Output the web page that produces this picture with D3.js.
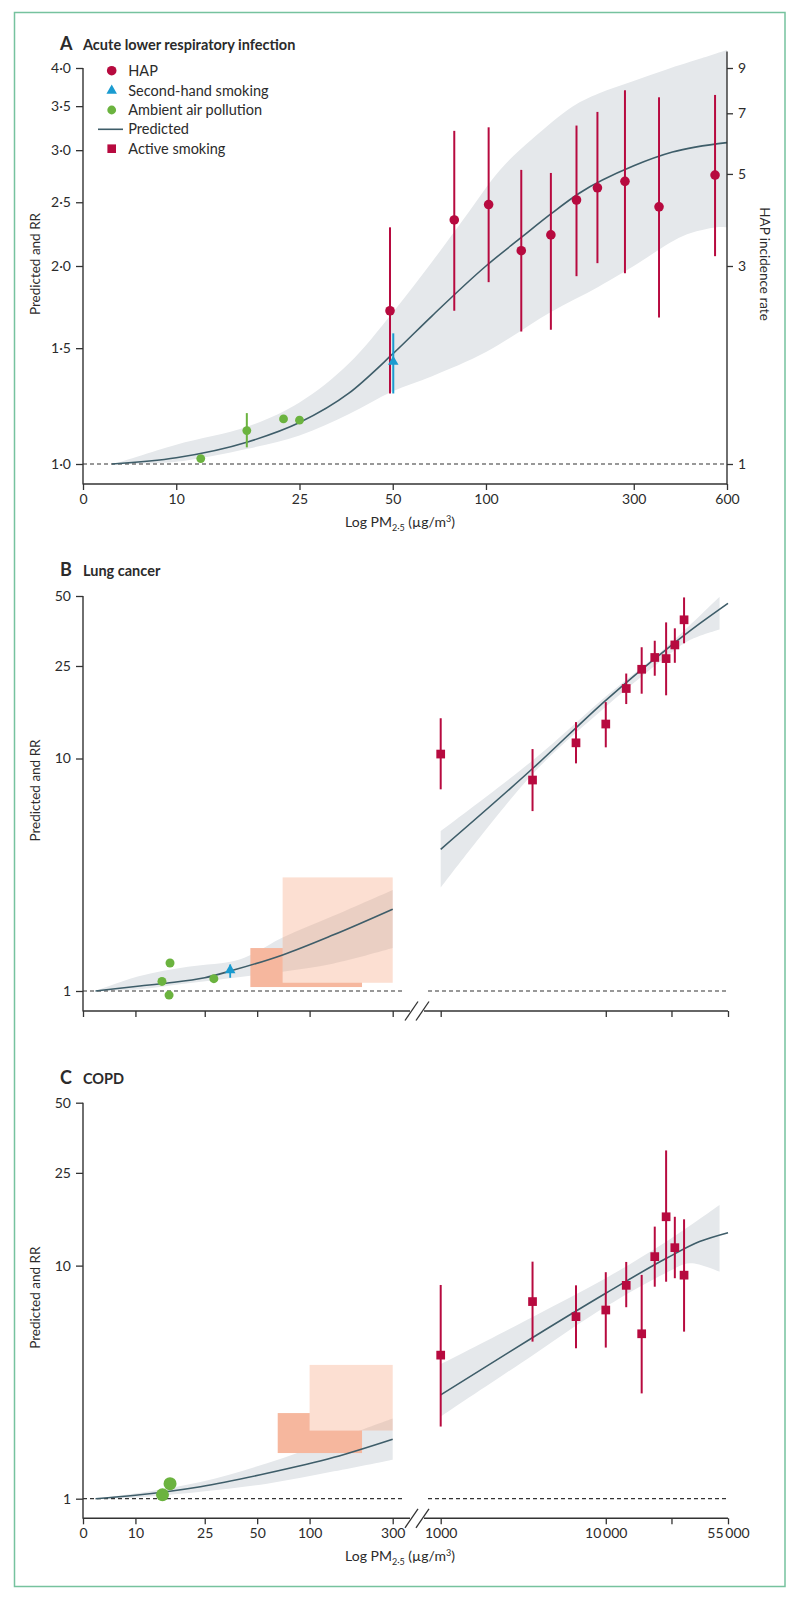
<!DOCTYPE html>
<html><head><meta charset="utf-8">
<script src="https://cdn.jsdelivr.net/npm/d3@7"></script>
<style>
body{margin:0;background:#fff;}
svg text{font-family:Lato,"Open Sans",sans-serif;fill:#2b2b2b;}
</style></head><body>
<svg id="chart" width="800" height="1600"></svg>
<script>
// ================= DATA =================
// ---- Panel A: Acute lower respiratory infection ----
const aXTicks = [5, 10, 25, 50, 100, 300, 600];
const aXTickLabels = ["0", "10", "25", "50", "100", "300", "600"];
const aYTicks = [1, 1.5, 2, 2.5, 3, 3.5, 4];
const aYTickLabels = ["1·0", "1·5", "2·0", "2·5", "3·0", "3·5", "4·0"];
const aRightTicks = [1, 3, 5, 7, 9];
const aRightTickLabels = ["1", "3", "5", "7", "9"];

const aPredX = [6.2, 10, 17, 25, 36, 50, 67, 100, 130, 162, 200, 300, 400, 600];
const aPredY = [1.0, 1.022, 1.08, 1.156, 1.28, 1.47, 1.68, 2.0, 2.21, 2.40, 2.58, 2.84, 2.98, 3.08];
const aBandUpX = [6.3, 10, 17, 25, 36, 50, 67, 86, 111, 141, 191, 231, 298, 383, 490, 600];
const aBandUpY = [1.0, 1.07, 1.14, 1.24, 1.42, 1.70, 2.03, 2.38, 2.80, 3.12, 3.50, 3.66, 3.82, 3.98, 4.13, 4.26];
const aBandLoX = [6.3, 10, 17, 25, 36, 50, 67, 100, 161, 231, 300, 431, 556, 600];
const aBandLoY = [1.0, 1.008, 1.055, 1.105, 1.19, 1.29, 1.36, 1.48, 1.70, 1.86, 2.0, 2.22, 2.29, 2.29];

const hapX  = [49, 79, 102, 130, 162, 196, 229, 281, 362, 549];
const hapRR = [1.71, 2.35, 2.48, 2.11, 2.23, 2.52, 2.63, 2.69, 2.46, 2.75];
const hapLo = [1.28, 1.71, 1.89, 1.59, 1.60, 1.93, 2.02, 1.95, 1.67, 2.07];
const hapHi = [2.29, 3.21, 3.25, 2.80, 2.77, 3.27, 3.43, 3.70, 3.61, 3.64];

const aShsX = [50.2], aShsRR = [1.43], aShsLo = [1.28], aShsHi = [1.58];
const aAmbX  = [12.0, 16.9, 22.2, 25.0];
const aAmbRR = [1.019, 1.124, 1.171, 1.166];
const aAmbLo = [null, 1.06, null, null];
const aAmbHi = [null, 1.195, null, null];

const legendLabels = ["HAP", "Second-hand smoking", "Ambient air pollution", "Predicted", "Active smoking"];

// ---- Panels B & C shared ticks ----
const lowXTicks = [5, 10, 25, 50, 100, 300];
const lowXTickLabels = ["0", "10", "25", "50", "100", "300"];
const highXTicks = [1000, 10000, 25000, 55000];
const highXTickLabels = ["1000", "10\u2009000", "", "55\u2009000"];
const bcYTicks = [1, 10, 25, 50];
const bcYTickLabels = ["1", "10", "25", "50"];
const smokeX = [1000, 3600, 6600, 10000, 13300, 16500, 19800, 23200, 26200, 29800];

// ---- Panel B: Lung cancer ----
const bPredLX = [5.9, 10.6, 15, 25, 36.6, 70, 136, 300];
const bPredLY = [1.0, 1.05, 1.08, 1.14, 1.23, 1.43, 1.74, 2.25];
const bBandLUpX = [5.9, 10.6, 20, 40, 70, 136, 300];
const bBandLUpY = [1.0, 1.16, 1.27, 1.37, 1.70, 2.10, 2.72];
const bBandLLoX = [5.9, 10.6, 20, 40, 70, 136, 300];
const bBandLLoY = [1.0, 1.017, 1.08, 1.15, 1.21, 1.31, 1.53];
const bPredRX = [1000, 3632, 10000, 23300, 37000, 55000];
const bPredRY = [4.07, 9.1, 17.8, 29.5, 38.0, 46.5];
const bBandRUpX = [1000, 3632, 10000, 23300, 48900];
const bBandRUpY = [4.88, 9.85, 18.5, 30.2, 49.6];
const bBandRLoX = [1000, 3632, 10000, 23300, 32300, 48900];
const bBandRLoY = [2.78, 8.63, 16.7, 27.4, 32.3, 35.9];
const bSmkRR = [10.45, 8.08, 11.68, 14.07, 20.0, 24.2, 27.2, 26.9, 30.8, 39.5];
const bSmkLo = [7.37, 5.94, 9.53, 11.17, 17.15, 19.0, 22.7, 18.7, 25.8, 31.3];
const bSmkHi = [14.9, 10.98, 14.34, 17.48, 23.2, 30.1, 32.1, 38.5, 36.3, 49.3];
const bAmbX  = [15.8, 14.2, 15.6, 28.2];
const bAmbRR = [1.32, 1.10, 0.96, 1.13];
const bShsX = [35.0], bShsRR = [1.23], bShsLo = [1.14], bShsHi = [1.30];
const bRectX0 = [45.7, 70], bRectX1 = [200, 300], bRectY0 = [1.04, 1.085], bRectY1 = [1.53, 3.08];

// ---- Panel C: COPD ----
const cPredLX = [5.9, 10, 23.6, 57, 138, 300];
const cPredLY = [1.0, 1.035, 1.126, 1.285, 1.505, 1.80];
const cBandLUpX = [5.9, 9.7, 23.6, 57, 138, 300];
const cBandLUpY = [1.0, 1.05, 1.18, 1.42, 1.79, 2.21];
const cBandLLoX = [5.9, 9.7, 23.6, 57, 138, 300];
const cBandLLoY = [1.0, 1.01, 1.07, 1.16, 1.31, 1.47];
const cPredRX = [1000, 3632, 10000, 23300, 37000, 55000];
const cPredRY = [2.79, 4.93, 7.61, 10.75, 12.68, 13.85];
const cBandRUpX = [1000, 3632, 10000, 23300, 48900];
const cBandRUpY = [3.78, 6.04, 8.83, 12.68, 18.2];
const cBandRLoX = [1000, 3632, 10000, 23300, 32300, 48900];
const cBandRLoY = [2.25, 4.14, 6.67, 9.33, 10.24, 9.42];
const cSmkRR = [4.13, 7.01, 6.04, 6.45, 8.23, 5.10, 10.93, 16.2, 11.94, 9.10];
const cSmkLo = [2.04, 4.72, 4.42, 4.45, 6.63, 2.83, 8.12, 8.53, 8.83, 5.21];
const cSmkHi = [8.26, 10.4, 8.23, 9.37, 10.37, 9.12, 14.7, 31.2, 16.2, 15.8];
const cAmbX  = [15.8, 14.3];
const cAmbRR = [1.16, 1.04];
const cRectX0 = [65.6, 100], cRectX1 = [200, 300], cRectY0 = [1.57, 1.96], cRectY1 = [2.33, 3.75];

// ================= STYLE =================
const RED = "#b70a3f", BLUE = "#1a9bd0", GREEN = "#6bb33f", LINE = "#3e5d69";
const BAND = "#e5e8eb", DARK_RECT = "#f6b79e", LIGHT_RECT = "#fcdfd2", AXIS = "#333";

const svg = d3.select("#chart");
svg.append("rect").attr("x", 14.5).attr("y", 12.5).attr("width", 770.5).attr("height", 1574)
  .attr("fill", "none").attr("stroke", "#76c29e").attr("stroke-width", 1.5);

function bandD(xsU, ysU, xsL, ysL, xS, yS) {
  const up = xsU.map((x, i) => [xS(x), yS(ysU[i])]);
  const lo = xsL.map((x, i) => [xS(x), yS(ysL[i])]).reverse();
  const ln = d3.line().curve(d3.curveCatmullRom.alpha(0.5));
  return ln(up) + "L" + ln(lo).slice(1) + "Z";
}
function lineD(xs, ys, xS, yS) {
  return d3.line().curve(d3.curveMonotoneX)(xs.map((x, i) => [xS(x), yS(ys[i])]));
}
function styleAxis(g, fs) {
  g.select(".domain").remove();
  g.selectAll(".tick line").attr("stroke", AXIS).attr("stroke-width", 1.3);
  g.selectAll(".tick text").style("font-family", "Lato, 'Open Sans', sans-serif")
    .style("font-size", fs + "px").attr("fill", "#2b2b2b");
}
function vline(g, x, y0, y1) {
  g.append("line").attr("x1", x).attr("x2", x).attr("y1", y0).attr("y2", y1)
    .attr("stroke", AXIS).attr("stroke-width", 1.4);
}
function hline(g, x0, x1, y, dashed) {
  const l = g.append("line").attr("x1", x0).attr("x2", x1).attr("y1", y).attr("y2", y)
    .attr("stroke", AXIS).attr("stroke-width", dashed ? 1.2 : 1.4);
  if (dashed) l.attr("stroke-dasharray", "4,3");
}
function errBars(g, xs, lo, hi, xS, yS, color, w) {
  xs.forEach((x, i) => {
    if (lo[i] == null) return;
    g.append("line").attr("x1", xS(x)).attr("x2", xS(x)).attr("y1", yS(lo[i])).attr("y2", yS(hi[i]))
      .attr("stroke", color).attr("stroke-width", w);
  });
}
function dots(g, xs, ys, xS, yS, color, r) {
  xs.forEach((x, i) => g.append("circle").attr("cx", xS(x)).attr("cy", yS(ys[i])).attr("r", r).attr("fill", color));
}
function symbols(g, type, size, xs, ys, xS, yS, color) {
  xs.forEach((x, i) => g.append("path").attr("d", d3.symbol(type, size)())
    .attr("transform", `translate(${xS(x)},${yS(ys[i])})`).attr("fill", color));
}
function xLabel(g, cx, y) {
  const t = g.append("text").attr("x", cx).attr("y", y).attr("text-anchor", "middle").style("font-size", "14px");
  t.append("tspan").text("Log PM");
  t.append("tspan").text("2·5").style("font-size", "9px").attr("dy", 4);
  t.append("tspan").text(" (µg/m").attr("dy", -4);
  t.append("tspan").text("3").style("font-size", "9px").attr("dy", -5);
  t.append("tspan").text(")").attr("dy", 5);
}
function title(g, letter, txt, y) {
  g.append("text").attr("x", 60).attr("y", y).text(letter).style("font-size", "18px").style("font-weight", 700).attr("fill", "#111");
  g.append("text").attr("x", 83).attr("y", y).text(txt).style("font-size", "14.5px").style("font-weight", 700).attr("fill", "#111");
}
function yLabel(g, cy) {
  g.append("text").attr("transform", `translate(40,${cy}) rotate(-90)`).attr("text-anchor", "middle")
    .style("font-size", "13.5px").text("Predicted and RR");
}

// ================= PANEL A =================
{
  const g = svg.append("g");
  const xS = d3.scaleLog().domain([5, 600]).range([83, 727]);
  const yS = d3.scaleLog().domain([1, 4]).range([464, 68]);
  const yR = d3.scaleLog().domain([1, 9]).range([464, 68]);

  g.append("path").attr("d", bandD(aBandUpX, aBandUpY, aBandLoX, aBandLoY, xS, yS)).attr("fill", BAND);
  hline(g, 83, 727, yS(1), true);
  g.append("path").attr("d", lineD(aPredX, aPredY, xS, yS)).attr("fill", "none").attr("stroke", LINE).attr("stroke-width", 1.6);

  const gl = g.append("g").attr("transform", "translate(83,0)")
    .call(d3.axisLeft(yS).tickValues(aYTicks).tickFormat((d, i) => aYTickLabels[i]).tickSize(7).tickPadding(5));
  styleAxis(gl, 14);
  vline(g, 83, 68, 484.5);
  const gr = g.append("g").attr("transform", "translate(727,0)")
    .call(d3.axisRight(yR).tickValues(aRightTicks).tickFormat((d, i) => aRightTickLabels[i]).tickSize(6).tickPadding(5));
  styleAxis(gr, 14);
  vline(g, 727, 51.5, 484.5);
  const gb = g.append("g").attr("transform", "translate(0,484)")
    .call(d3.axisBottom(xS).tickValues(aXTicks).tickFormat((d, i) => aXTickLabels[i]).tickSize(6).tickPadding(4));
  styleAxis(gb, 14);
  hline(g, 83, 727, 484);

  errBars(g, hapX, hapLo, hapHi, xS, yS, RED, 2);
  errBars(g, aShsX, aShsLo, aShsHi, xS, yS, BLUE, 2);
  errBars(g, aAmbX, aAmbLo, aAmbHi, xS, yS, GREEN, 2);
  dots(g, hapX, hapRR, xS, yS, RED, 4.8);
  dots(g, aAmbX, aAmbRR, xS, yS, GREEN, 4.4);
  symbols(g, d3.symbolTriangle, 48, aShsX, aShsRR, xS, yS, BLUE);

  // legend
  const lx = 111.7, tx = 128.3, ly = [70.7, 90.7, 110, 129.3, 148.7];
  g.append("circle").attr("cx", lx).attr("cy", ly[0]).attr("r", 4.8).attr("fill", RED);
  g.append("path").attr("d", d3.symbol(d3.symbolTriangle, 48)()).attr("transform", `translate(${lx},${ly[1]})`).attr("fill", BLUE);
  g.append("circle").attr("cx", lx).attr("cy", ly[2]).attr("r", 4.4).attr("fill", GREEN);
  g.append("line").attr("x1", 98).attr("x2", 123).attr("y1", ly[3]).attr("y2", ly[3]).attr("stroke", LINE).attr("stroke-width", 1.6);
  g.append("rect").attr("x", lx - 4.3).attr("y", ly[4] - 4.3).attr("width", 8.6).attr("height", 8.6).attr("fill", RED);
  legendLabels.forEach((t, i) => g.append("text").attr("x", tx).attr("y", ly[i] + 5).style("font-size", "14.5px").text(t));

  title(g, "A", "Acute lower respiratory infection", 50);
  yLabel(g, 264);
  g.append("text").attr("transform", "translate(760,264) rotate(90)").attr("text-anchor", "middle")
    .style("font-size", "13.5px").text("HAP incidence rate");
  xLabel(g, 400, 527);
}

// ================= PANELS B & C =================
function lowerPanel(cfg) {
  const g = svg.append("g");
  const xL = d3.scaleLog().domain([5, 300]).range([83, 392.7]);
  const xR = d3.scaleLog().domain([1000, 55000]).range([440.7, 728]);
  const yS = d3.scaleLog().domain([1, 50]).range([cfg.yBase, cfg.yTop]);
  const ay = cfg.axisY;

  // left band, rectangles
  const bandL = bandD(cfg.bandLUpX, cfg.bandLUpY, cfg.bandLLoX, cfg.bandLLoY, xL, yS);
  g.append("path").attr("d", bandL).attr("fill", BAND);
  const rx = (i) => xL(cfg.rectX0[i]), rw = (i) => xL(cfg.rectX1[i]) - xL(cfg.rectX0[i]);
  const ry = (i) => yS(cfg.rectY1[i]), rh = (i) => yS(cfg.rectY0[i]) - yS(cfg.rectY1[i]);
  g.append("rect").attr("x", rx(0)).attr("y", ry(0)).attr("width", rw(0)).attr("height", rh(0)).attr("fill", DARK_RECT);
  g.append("rect").attr("x", rx(1)).attr("y", ry(1)).attr("width", rw(1)).attr("height", rh(1)).attr("fill", LIGHT_RECT);
  const clipId = "clip" + cfg.letter;
  svg.append("clipPath").attr("id", clipId).append("rect")
    .attr("x", rx(1)).attr("y", ry(1)).attr("width", rw(1)).attr("height", rh(1));
  g.append("path").attr("d", bandL).attr("fill", "#000").attr("fill-opacity", 0.07).attr("clip-path", `url(#${clipId})`);

  // right band
  g.append("path").attr("d", bandD(cfg.bandRUpX, cfg.bandRUpY, cfg.bandRLoX, cfg.bandRLoY, xR, yS)).attr("fill", BAND);

  // baseline
  hline(g, 83, 403, yS(1), true);
  hline(g, 428, 728, yS(1), true);

  // predicted
  g.append("path").attr("d", lineD(cfg.predLX, cfg.predLY, xL, yS)).attr("fill", "none").attr("stroke", LINE).attr("stroke-width", 1.6);
  g.append("path").attr("d", lineD(cfg.predRX, cfg.predRY, xR, yS)).attr("fill", "none").attr("stroke", LINE).attr("stroke-width", 1.6);

  // axes
  const gl = g.append("g").attr("transform", "translate(83,0)")
    .call(d3.axisLeft(yS).tickValues(bcYTicks).tickFormat((d, i) => bcYTickLabels[i]).tickSize(7).tickPadding(5));
  styleAxis(gl, 14);
  vline(g, 83, cfg.yTop, ay + 0.5);
  const gxl = g.append("g").attr("transform", `translate(0,${ay})`)
    .call(d3.axisBottom(xL).tickValues(lowXTicks).tickFormat((d, i) => cfg.showLabels ? lowXTickLabels[i] : "").tickSize(6).tickPadding(4));
  styleAxis(gxl, 14);
  const gxr = g.append("g").attr("transform", `translate(0,${ay})`)
    .call(d3.axisBottom(xR).tickValues(highXTicks).tickFormat((d, i) => cfg.showLabels ? highXTickLabels[i] : "").tickSize(6).tickPadding(4));
  styleAxis(gxr, 14);
  hline(g, 83, 410, ay);
  hline(g, 424, 728, ay);
  [[405, 418], [416, 429]].forEach(([x0, x1]) =>
    g.append("line").attr("x1", x0).attr("y1", ay + 9.5).attr("x2", x1).attr("y2", ay - 9.5)
      .attr("stroke", AXIS).attr("stroke-width", 1.3));

  // points
  if (cfg.shsX) {
    errBars(g, cfg.shsX, cfg.shsLo, cfg.shsHi, xL, yS, BLUE, 1.8);
    symbols(g, d3.symbolTriangle, 48, cfg.shsX, cfg.shsRR, xL, yS, BLUE);
  }
  dots(g, cfg.ambX, cfg.ambRR, xL, yS, GREEN, cfg.ambR);
  errBars(g, smokeX, cfg.smkLo, cfg.smkHi, xR, yS, RED, 2);
  symbols(g, d3.symbolSquare, 76, smokeX, cfg.smkRR, xR, yS, RED);

  title(g, cfg.letter, cfg.title, cfg.titleY);
  yLabel(g, (cfg.yTop + cfg.yBase) / 2 - 3);
  if (cfg.showLabels) xLabel(g, 400, cfg.xLabelY);
}

lowerPanel({
  letter: "B", title: "Lung cancer", titleY: 576, yTop: 596, yBase: 991, axisY: 1011, showLabels: false,
  predLX: bPredLX, predLY: bPredLY, bandLUpX: bBandLUpX, bandLUpY: bBandLUpY, bandLLoX: bBandLLoX, bandLLoY: bBandLLoY,
  predRX: bPredRX, predRY: bPredRY, bandRUpX: bBandRUpX, bandRUpY: bBandRUpY, bandRLoX: bBandRLoX, bandRLoY: bBandRLoY,
  smkLo: bSmkLo, smkHi: bSmkHi, smkRR: bSmkRR, ambX: bAmbX, ambRR: bAmbRR, ambR: 4.5,
  shsX: bShsX, shsRR: bShsRR, shsLo: bShsLo, shsHi: bShsHi,
  rectX0: bRectX0, rectX1: bRectX1, rectY0: bRectY0, rectY1: bRectY1
});
lowerPanel({
  letter: "C", title: "COPD", titleY: 1084, yTop: 1102.7, yBase: 1498.7, axisY: 1518.3, showLabels: true, xLabelY: 1561,
  predLX: cPredLX, predLY: cPredLY, bandLUpX: cBandLUpX, bandLUpY: cBandLUpY, bandLLoX: cBandLLoX, bandLLoY: cBandLLoY,
  predRX: cPredRX, predRY: cPredRY, bandRUpX: cBandRUpX, bandRUpY: cBandRUpY, bandRLoX: cBandRLoX, bandRLoY: cBandRLoY,
  smkLo: cSmkLo, smkHi: cSmkHi, smkRR: cSmkRR, ambX: cAmbX, ambRR: cAmbRR, ambR: 6.5,
  rectX0: cRectX0, rectX1: cRectX1, rectY0: cRectY0, rectY1: cRectY1
});
</script>
</body></html>
